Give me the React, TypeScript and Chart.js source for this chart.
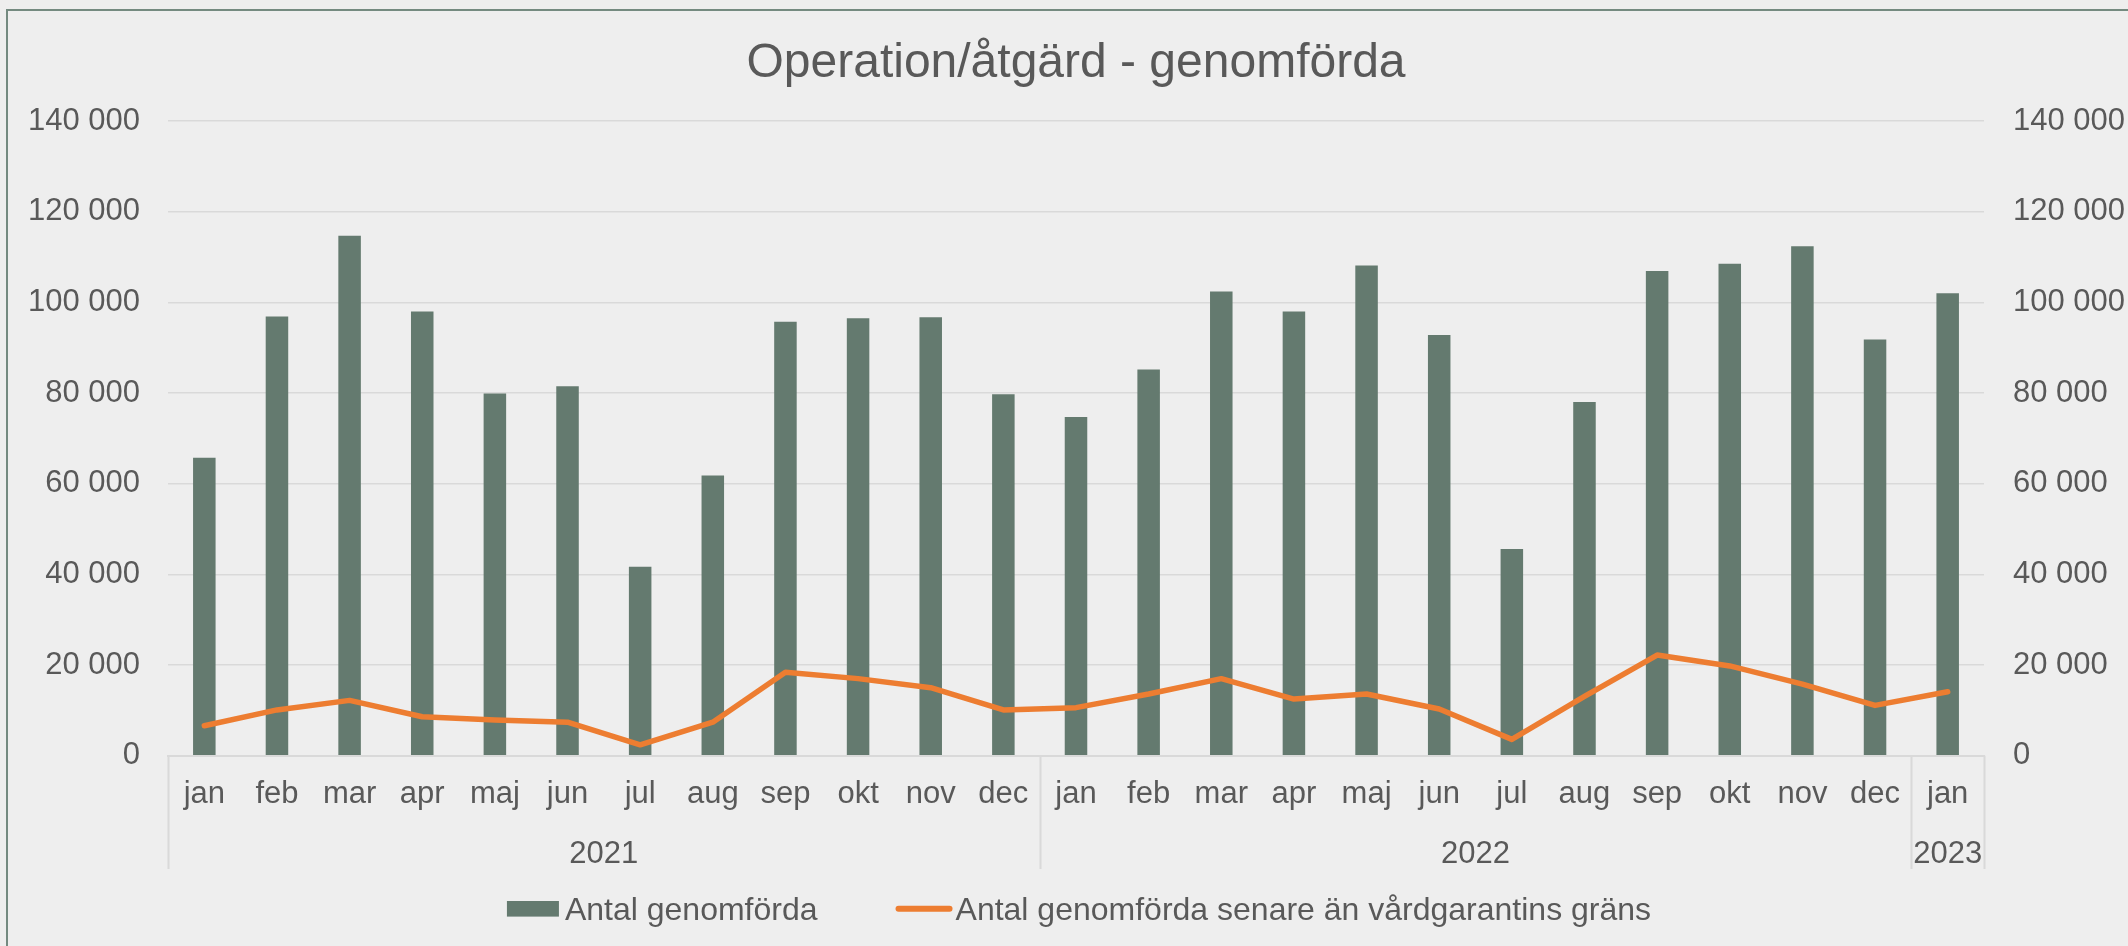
import React, { useEffect, useRef } from 'react';
import { Chart, registerables } from 'chart.js';

Chart.register(...registerables);

const chartTitle = 'Operation/åtgärd - genomförda';
const months = [
  'jan', 'feb', 'mar', 'apr', 'maj', 'jun', 'jul', 'aug', 'sep', 'okt', 'nov', 'dec',
  'jan', 'feb', 'mar', 'apr', 'maj', 'jun', 'jul', 'aug', 'sep', 'okt', 'nov', 'dec',
  'jan',
];
const yearLabels = ['2021', '2022', '2023'];
const yearSpans = [12, 12, 1];
const seriesNames = ['Antal genomförda', 'Antal genomförda senare än vårdgarantins gräns'];
const totalDone = [
  65700, 96900, 114700, 98000, 79900, 81500, 41700, 61800, 95700, 96500, 96700, 79700,
  74700, 85200, 102400, 98000, 108100, 92800, 45600, 78000, 106900, 108500, 112400, 91800,
  102000,
];
const lateDone = [
  6600, 10100, 12200, 8600, 7900, 7400, 2400, 7400, 18400, 17000, 15000, 10100,
  10600, 13600, 17000, 12500, 13600, 10300, 3600, 13100, 22200, 19800, 15800, 11100,
  14100,
];
const yMin = 0;
const yMax = 140000;
const yStep = 20000;

const FONT = '"Liberation Sans", Arial, sans-serif';
const TEXT = '#595959';
const GRID = '#d9d9d9';
const BAR = '#647a6f';
const LINE = '#ed7d31';

const fmt = (v: number) => String(v).replace(/\B(?=(\d{3})+(?!\d))/g, ' ');

const decorPlugin = {
  id: 'decor',
  afterDraw(chart: any) {
    const ctx = chart.ctx as CanvasRenderingContext2D;
    const area = chart.chartArea;
    const xs = chart.scales.x;
    const cx = (area.left + area.right) / 2;
    ctx.save();

    // title
    ctx.fillStyle = TEXT;
    ctx.font = `48px ${FONT}`;
    ctx.textAlign = 'center';
    ctx.textBaseline = 'alphabetic';
    ctx.fillText(chartTitle, cx, 76.5);

    // group separators + year labels
    const px = (i: number) => xs.getPixelForValue(i);
    const boundary = (i: number) => {
      if (i <= 0) return area.left;
      if (i >= months.length) return area.right;
      return (px(i - 1) + px(i)) / 2;
    };
    ctx.strokeStyle = GRID;
    ctx.lineWidth = 2;
    let start = 0;
    const bounds = [0];
    yearSpans.forEach((s) => {
      start += s;
      bounds.push(start);
    });
    bounds.forEach((b) => {
      const x = Math.round(boundary(b)) + 0.5;
      ctx.beginPath();
      ctx.moveTo(x, area.bottom);
      ctx.lineTo(x, 869);
      ctx.stroke();
    });
    ctx.font = `31px ${FONT}`;
    ctx.fillStyle = TEXT;
    ctx.textAlign = 'center';
    let s0 = 0;
    yearLabels.forEach((lab, k) => {
      const a = s0;
      const b = s0 + yearSpans[k] - 1;
      const x = (px(a) + px(b)) / 2;
      ctx.fillText(lab, x, 862.5);
      s0 += yearSpans[k];
    });

    // legend
    ctx.font = `32px ${FONT}`;
    const w1 = ctx.measureText(seriesNames[0]).width;
    const w2 = ctx.measureText(seriesNames[1]).width;
    const boxW = 52, gap1 = 6, itemGap = 78, lineW = 57, gap2 = 3;
    const total = boxW + gap1 + w1 + itemGap + lineW + gap2 + w2;
    let lx = cx + 3 - total / 2;
    const ly = 908.8;
    ctx.fillStyle = BAR;
    ctx.fillRect(lx, ly - 7.8, boxW, 15.6);
    lx += boxW + gap1;
    ctx.fillStyle = TEXT;
    ctx.textAlign = 'left';
    ctx.fillText(seriesNames[0], lx, 920);
    lx += w1 + itemGap;
    ctx.strokeStyle = LINE;
    ctx.lineWidth = 6;
    ctx.lineCap = 'round';
    ctx.beginPath();
    ctx.moveTo(lx + 3, ly);
    ctx.lineTo(lx + lineW - 3, ly);
    ctx.stroke();
    lx += lineW + gap2;
    ctx.fillStyle = TEXT;
    ctx.fillText(seriesNames[1], lx, 920);

    ctx.restore();
  },
};

export default function App() {
  const ref = useRef<HTMLCanvasElement | null>(null);

  useEffect(() => {
    if (!ref.current) return;
    const chart = new Chart(ref.current, {
      type: 'bar',
      data: {
        labels: months,
        datasets: [
          {
            type: 'line',
            label: seriesNames[1],
            data: lateDone,
            yAxisID: 'y1',
            borderColor: LINE,
            backgroundColor: LINE,
            borderWidth: 5.5,
            pointRadius: 0,
            tension: 0,
            borderJoinStyle: 'round',
            borderCapStyle: 'round',
            order: 0,
          } as any,
          {
            type: 'bar',
            label: seriesNames[0],
            data: totalDone,
            yAxisID: 'y',
            backgroundColor: BAR,
            borderWidth: 0,
            barPercentage: 0.31,
            categoryPercentage: 1,
            order: 1,
          } as any,
        ],
      },
      options: {
        animation: false,
        responsive: false,
        events: [],
        layout: { padding: { top: 121, left: 0, right: 0, bottom: 0 } },
        plugins: {
          legend: { display: false },
          title: { display: false },
          tooltip: { enabled: false },
        },
        scales: {
          x: {
            offset: true,
            grid: { display: false, drawTicks: false },
            border: { display: true, color: GRID, width: 2 },
            ticks: {
              color: TEXT,
              font: { family: FONT, size: 31 },
              padding: 20,
              maxRotation: 0,
              autoSkip: false,
            },
            afterFit: (s: any) => {
              s.height = 190.3;
            },
          },
          y: {
            position: 'left',
            min: yMin,
            max: yMax,
            ticks: {
              stepSize: yStep,
              color: TEXT,
              font: { family: FONT, size: 31 },
              padding: 28,
              callback: (v: any) => fmt(Number(v)),
            },
            grid: { color: GRID, lineWidth: 1.5, drawTicks: false },
            border: { display: false },
            afterFit: (s: any) => {
              s.width = 168;
            },
          },
          y1: {
            position: 'right',
            min: yMin,
            max: yMax,
            ticks: {
              stepSize: yStep,
              color: TEXT,
              font: { family: FONT, size: 31 },
              padding: 29,
              callback: (v: any) => fmt(Number(v)),
            },
            grid: { display: false, drawTicks: false },
            border: { display: false },
            afterFit: (s: any) => {
              s.width = 144;
            },
          },
        },
      },
      plugins: [decorPlugin],
    });
    return () => chart.destroy();
  }, []);

  return (
    <div
      style={{
        position: 'fixed',
        left: 0,
        top: 0,
        width: 2128,
        height: 946,
        background: '#eeeeee',
        overflow: 'hidden',
      }}
    >
      <div
        style={{
          position: 'absolute',
          left: 6,
          top: 9,
          width: 2300,
          height: 1100,
          border: '2px solid #748a80',
          boxSizing: 'border-box',
        }}
      />
      <canvas
        ref={ref}
        width={2128}
        height={946}
        style={{ position: 'absolute', left: 0, top: 0, width: 2128, height: 946 }}
      />
    </div>
  );
}
